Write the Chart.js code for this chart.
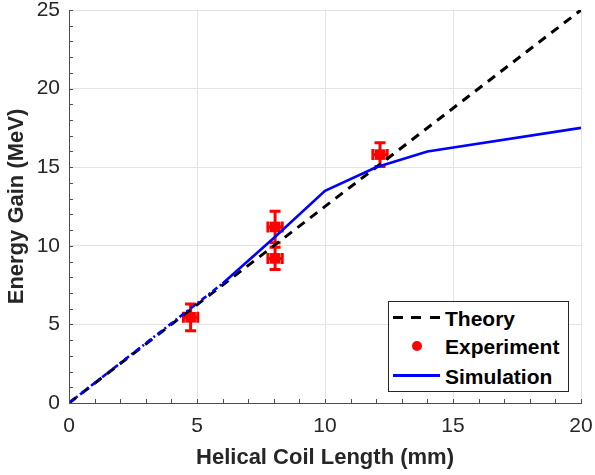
<!DOCTYPE html>
<html>
<head>
<meta charset="utf-8">
<script src="https://cdn.jsdelivr.net/npm/chart.js@4.4.1/dist/chart.umd.min.js"></script>
<style>
  body { margin: 0; background: #fff; }
  #wrap { position: relative; width: 595px; height: 475px; }
  #legend {
    position: absolute; left: 388px; top: 301px; width: 179px; height: 89px;
    border: 1px solid #262626; background: #fff;
    font: bold 21px "Liberation Sans", Arial, sans-serif; color: #000;
  }
  .row { position: absolute; left: 0; height: 26px; width: 179px; }
  .row span { position: absolute; left: 56px; top: 1px; line-height: 26px; }
  .sample { position: absolute; left: 4px; top: 11px; width: 47px; height: 3px; }
  .dash { background: repeating-linear-gradient(90deg, #000 0 10px, transparent 10px 18.5px); }
  .solid { background: #0000ff; }
  .dot { position: absolute; left: 23px; top: 8px; width: 10px; height: 10px; border-radius: 50%; background: #ff0000; }
</style>
</head>
<body>
<div id="wrap">
  <canvas id="chart" width="595" height="475"></canvas>
  <div id="legend">
    <div class="row" style="top:3px"><div class="sample dash"></div><span>Theory</span></div>
    <div class="row" style="top:31px"><div class="dot"></div><span>Experiment</span></div>
    <div class="row" style="top:61px"><div class="sample solid"></div><span>Simulation</span></div>
  </div>
</div>
<script>
// theory: linear gain
const theoryX = [0, 20];
const theoryY = [0, 25];

// simulation (solid part + dotted start)
const simX = [6, 8, 10, 12, 14, 20];
const simY = [7.6, 10.5, 13.5, 15.0, 16.0, 17.5];
const simStartX = [0, 6];
const simStartY = [0, 7.6];

// experiment points with error bars
const expX = [4.75, 8.05, 8.05, 12.15];
const expY = [5.45, 11.2, 9.2, 15.8];
const expErrX = [0.28, 0.28, 0.28, 0.28];
const expErrY = [0.85, 1.0, 0.7, 0.75];

const xTicks = [0, 5, 10, 15, 20];
const yTicks = [0, 5, 10, 15, 20, 25];

const toPts = (xs, ys) => xs.map((x, i) => ({ x: x, y: ys[i] }));

const errorBars = {
  id: "errorBars",
  beforeDatasetsDraw(chart) {
    const xs = chart.scales.x, ys = chart.scales.y;
    const ctx = chart.ctx;
    ctx.save();
    ctx.strokeStyle = "#ff0000";
    ctx.lineWidth = 3;
    expX.forEach((x, i) => {
      const px = xs.getPixelForValue(x);
      const py = ys.getPixelForValue(expY[i]);
      const top = ys.getPixelForValue(expY[i] + expErrY[i]);
      const bot = ys.getPixelForValue(expY[i] - expErrY[i]);
      const l = xs.getPixelForValue(x - expErrX[i]);
      const r = xs.getPixelForValue(x + expErrX[i]);
      ctx.beginPath();
      ctx.moveTo(px, top); ctx.lineTo(px, bot);
      ctx.moveTo(px - 5.5, top); ctx.lineTo(px + 5.5, top);
      ctx.moveTo(px - 5.5, bot); ctx.lineTo(px + 5.5, bot);
      ctx.moveTo(l, py); ctx.lineTo(r, py);
      ctx.moveTo(l, py - 5.5); ctx.lineTo(l, py + 5.5);
      ctx.moveTo(r, py - 5.5); ctx.lineTo(r, py + 5.5);
      ctx.stroke();
    });
    ctx.restore();
  }
};

// small inward ticks every 1 unit, like the matlab axes
const minorTicks = {
  id: "minorTicks",
  afterDraw(chart) {
    const xs = chart.scales.x, ys = chart.scales.y;
    const a = chart.chartArea;
    const ctx = chart.ctx;
    ctx.save();
    ctx.strokeStyle = "#4d4d4d";
    ctx.lineWidth = 1;
    ctx.beginPath();
    for (let v = xs.min; v <= xs.max; v += 1) {
      const p = Math.round(xs.getPixelForValue(v)) + 0.5;
      ctx.moveTo(p, a.bottom); ctx.lineTo(p, a.bottom - 4);
    }
    for (let v = ys.min; v <= ys.max; v += 1) {
      const p = Math.round(ys.getPixelForValue(v)) + 0.5;
      ctx.moveTo(a.left, p); ctx.lineTo(a.left + 4, p);
    }
    ctx.stroke();
    ctx.restore();
  }
};

const tickFont = { family: "'Liberation Sans', Arial, sans-serif", size: 21 };
const titleFont = { family: "'Liberation Sans', Arial, sans-serif", size: 22, weight: "bold" };

new Chart(document.getElementById("chart"), {
  type: "scatter",
  data: {
    datasets: [
      {
        label: "Simulation start",
        data: toPts(simStartX, simStartY),
        showLine: true,
        borderColor: "#0000ff",
        borderWidth: 2.6,
        borderDash: [6, 3, 2, 3],
        pointRadius: 0
      },
      {
        label: "Simulation",
        data: toPts(simX, simY),
        showLine: true,
        borderColor: "#0000ff",
        borderWidth: 2.6,
        pointRadius: 0
      },
      {
        label: "Theory",
        data: toPts(theoryX, theoryY),
        showLine: true,
        borderColor: "#000000",
        borderWidth: 3,
        borderDash: [9, 7],
        pointRadius: 0
      },
      {
        label: "Experiment",
        data: toPts(expX, expY),
        showLine: false,
        pointStyle: "rect",
        pointRadius: 7.5,
        backgroundColor: "#ff0000",
        borderColor: "#ff0000",
        borderWidth: 0
      }
    ]
  },
  options: {
    responsive: false,
    animation: false,
    layout: { autoPadding: false, padding: { left: 0, top: 10, right: 14, bottom: 0 } },
    plugins: { legend: { display: false }, tooltip: { enabled: false } },
    scales: {
      x: {
        type: "linear",
        min: 0, max: 20,
        afterFit: (s) => { s.height = 72; s.paddingLeft = 0; s.paddingRight = 0; },
        afterBuildTicks: (s) => { s.ticks = xTicks.map((v) => ({ value: v })); },
        ticks: { font: tickFont, color: "#262626", padding: 11, maxRotation: 0 },
        grid: { color: "#e3e3e3", drawTicks: false },
        border: { color: "#4d4d4d", width: 1 },
        title: {
          display: true,
          text: "Helical Coil Length (mm)",
          color: "#262626",
          font: titleFont,
          padding: { top: 0, bottom: 4 }
        }
      },
      y: {
        type: "linear",
        min: 0, max: 25,
        afterFit: (s) => { s.width = 69; s.paddingTop = 0; s.paddingBottom = 0; },
        afterBuildTicks: (s) => { s.ticks = yTicks.map((v) => ({ value: v })); },
        ticks: { font: tickFont, color: "#262626", padding: 9 },
        grid: { color: "#e3e3e3", drawTicks: false },
        border: { color: "#4d4d4d", width: 1 },
        title: {
          display: true,
          text: "Energy Gain (MeV)",
          color: "#262626",
          font: titleFont,
          padding: { top: 4, bottom: 0 }
        }
      }
    }
  },
  plugins: [errorBars, minorTicks]
});
</script>
</body>
</html>
